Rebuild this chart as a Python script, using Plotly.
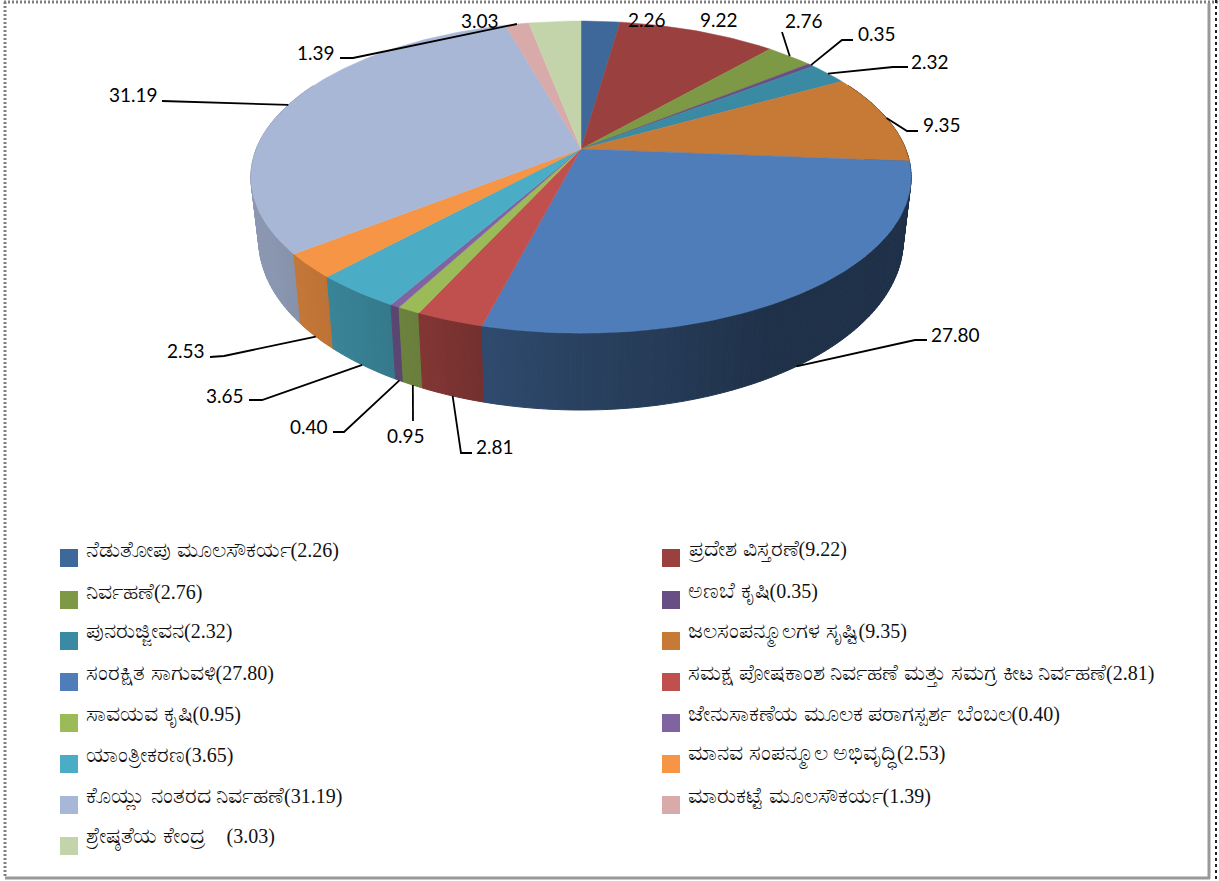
import numpy as np
import plotly.graph_objects as go

categories = [
    "ನೆಡುತೋಪು ಮೂಲಸೌಕರ್ಯ", "ಪ್ರದೇಶ ವಿಸ್ತರಣೆ", "ನಿರ್ವಹಣೆ", "ಅಣಬೆ ಕೃಷಿ", "ಪುನರುಜ್ಜೀವನ",
    "ಜಲಸಂಪನ್ಮೂಲಗಳ ಸೃಷ್ಟಿ", "ಸಂರಕ್ಷಿತ ಸಾಗುವಳಿ",
    "ಸಮಕ್ಷ ಪೋಷಕಾಂಶ ನಿರ್ವಹಣೆ ಮತ್ತು ಸಮಗ್ರ ಕೀಟ ನಿರ್ವಹಣೆ", "ಸಾವಯವ ಕೃಷಿ",
    "ಜೇನುಸಾಕಣೆಯ ಮೂಲಕ ಪರಾಗಸ್ಪರ್ಶ ಬೆಂಬಲ", "ಯಾಂತ್ರೀಕರಣ", "ಮಾನವ ಸಂಪನ್ಮೂಲ ಅಭಿವೃದ್ಧಿ",
    "ಕೊಯ್ಲು ನಂತರದ ನಿರ್ವಹಣೆ", "ಮಾರುಕಟ್ಟೆ ಮೂಲಸೌಕರ್ಯ", "ಶ್ರೇಷ್ಠತೆಯ ಕೇಂದ್ರ\u00a0\u00a0\u00a0\u00a0",
]
values = [2.26, 9.22, 2.76, 0.35, 2.32, 9.35, 27.80, 2.81, 0.95, 0.40, 3.65, 2.53, 31.19, 1.39, 3.03]
colors = [
    (61, 104, 153), (154, 64, 62), (126, 153, 69), (103, 79, 133), (58, 138, 163),
    (199, 122, 54), (79, 125, 185), (192, 80, 77), (155, 187, 89), (128, 100, 162),
    (75, 172, 198), (245, 149, 69), (169, 183, 214), (217, 170, 170), (196, 212, 170),
]
# label centre, then the outer end and elbow of its leader (None = no leader)
label_pos = [
    (647, 19), (719, 19), (804, 20), (877, 33), (930, 61), (942, 124), (955, 334), (495, 446),
    (406, 435), (309, 426), (225, 395), (186, 350), (133, 94), (316, 52), (480, 20),
]
leader_ends = [
    None, None, [(782, 32)], [(853, 40), (842, 40)], [(908, 67), (893, 67)], [(918, 131), (907, 131)],
    [(927, 340), (915, 340)], [(472, 453), (461, 453)], [(413, 421)], [(333, 432), (344, 432)],
    [(249, 400), (262, 400)], [(210, 357), (224, 356)], [(162, 101)], [(340, 58), (353, 58)], None,
]
# wall brightness against the compass angle of the rim
shade_angle = [0, 150, 180, 195, 205, 225, 240, 262, 360]
shade_level = [0.39, 0.39, 0.52, 0.60, 0.68, 0.78, 0.82, 0.84, 0.84]

K = 0.18  # perspective of the pie


def top_face(theta):
    u, v, w = np.sin(theta), np.cos(theta), 1 + K * np.cos(theta)
    return 581 + 324.7 * u / w, 149 - 151 * v / w


def bottom_face(theta):
    u, v, w = np.sin(theta), np.cos(theta), 1 + K * np.cos(theta)
    return 581 + 317 * u / w, 209.4 - 164.5 * v / w


def rgb(c, f=1.0):
    return "rgb(%d,%d,%d)" % tuple(round(x * f) for x in c)


fig = go.Figure()
cum = np.cumsum([0] + values) / sum(values) * 2 * np.pi

# side walls, back to front
strips = []
for i, c in enumerate(colors):
    n = max(2, int(np.degrees(cum[i + 1] - cum[i])) + 1)
    th = np.linspace(cum[i], cum[i + 1], n)
    for a, b in zip(th[:-1], th[1:]):
        strips.append((np.cos((a + b) / 2), a, b, c))
strips.sort(key=lambda s: -s[0])
for v, a, b, c in strips:
    if v > 0.45:
        continue
    x0, y0 = top_face(np.array([a, b]))
    x1, y1 = bottom_face(np.array([b, a]))
    f = np.interp(np.degrees((a + b) / 2), shade_angle, shade_level)
    fig.add_trace(go.Scatter(
        x=list(x0) + list(x1) + [x0[0]], y=list(y0) + list(y1) + [y0[0]],
        mode="lines", fill="toself", fillcolor=rgb(c, f),
        line=dict(color=rgb(c, f), width=1), hoverinfo="skip",
    ))

# top face
for i, c in enumerate(colors):
    th = np.linspace(cum[i], cum[i + 1], max(3, int(np.degrees(cum[i + 1] - cum[i])) + 2))
    x, y = top_face(th)
    fig.add_trace(go.Scatter(
        x=[581] + list(x) + [581], y=[149] + list(y) + [149],
        mode="lines", fill="toself", fillcolor=rgb(c),
        line=dict(color=rgb(c), width=0.5), hoverinfo="skip",
    ))

# leaders start at the middle of the slice's rim
for i, ends in enumerate(leader_ends):
    if ends is None:
        continue
    mid = np.array([(cum[i] + cum[i + 1]) / 2])
    x, y = bottom_face(mid) if np.cos(mid[0]) < -0.3 else top_face(mid)
    px = [e[0] for e in ends] + [x[0]]
    py = [e[1] for e in ends] + [y[0]]
    fig.add_trace(go.Scatter(x=px, y=py, mode="lines", line=dict(color="black", width=1.8), hoverinfo="skip"))

for i, v in enumerate(values):
    fig.add_annotation(
        x=label_pos[i][0], y=label_pos[i][1], text=f"{v:.2f}", showarrow=False,
        font=dict(family="Lato, Open Sans", size=19, color="black"),
    )

# legend, two columns
rows = [558, 600, 641, 682, 723, 764, 805, 846]
for i, name in enumerate(categories):
    col = i % 2
    row = rows[i // 2]
    fig.add_trace(go.Scatter(
        x=[69 if col == 0 else 671], y=[row], mode="markers",
        marker=dict(symbol="square", size=18, color=rgb(colors[i]), line=dict(width=0)),
        hoverinfo="skip",
    ))
    fig.add_annotation(
        x=84 if col == 0 else 686, y=row - 9, xanchor="left",
        text=f'<span style="font-size:22px">{name}</span>({values[i]:.2f})',
        showarrow=False, font=dict(family="Liberation Serif", size=20, color="#111111"),
    )

# frame
fig.add_shape(type="line", x0=4, y0=2, x1=1219, y1=2, line=dict(color="#808080", width=3, dash="2px,2px"))
fig.add_shape(type="line", x0=5, y0=2, x1=5, y1=878, line=dict(color="#808080", width=3, dash="2px,2px"))
fig.add_shape(type="line", x0=1216, y0=0, x1=1216, y1=881, line=dict(color="#222222", width=2, dash="3px,3px"))
fig.add_shape(type="line", x0=1209, y0=3, x1=1209, y1=879, line=dict(color="#999999", width=3))
fig.add_shape(type="line", x0=5, y0=878, x1=1210, y1=878, line=dict(color="#999999", width=3))

fig.update_layout(
    width=1219, height=881,
    margin=dict(t=0, l=0, r=0, b=0),
    plot_bgcolor="white", paper_bgcolor="white",
    showlegend=False,
    xaxis=dict(range=[0, 1219], visible=False, fixedrange=True),
    yaxis=dict(range=[881, 0], visible=False, fixedrange=True),
)

fig.write_html(
    "out.html",
    config=dict(displayModeBar=False),
    post_script="document.body.style.margin='0';document.body.style.overflow='hidden';",
)
